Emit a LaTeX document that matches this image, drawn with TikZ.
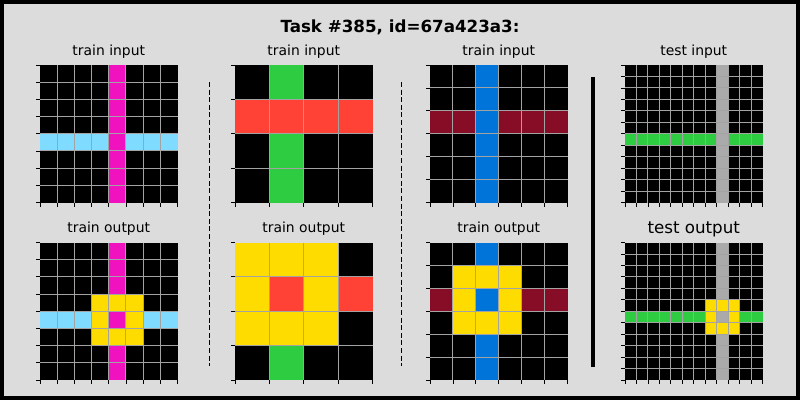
\documentclass[tikz,border=0pt]{standalone}
\usepackage{fontspec}
\setmainfont{DejaVu Sans}
\usetikzlibrary{positioning}

\definecolor{panelbg}{HTML}{DCDCDC}
\definecolor{gridgrey}{HTML}{A3A3A3}
\definecolor{arcblue}{HTML}{0074D9}
\definecolor{arcred}{HTML}{FF4136}
\definecolor{arcgreen}{HTML}{2ECC40}
\definecolor{arcyellow}{HTML}{FFDC00}
\definecolor{arcgrey}{HTML}{AAAAAA}
\definecolor{arcmagenta}{HTML}{F012BE}
\definecolor{arclightblue}{HTML}{7FDBFF}
\definecolor{arcmaroon}{HTML}{870C25}

% one task grid: left, top, size n, blocks ra/ca/rb/cb/colour
\newcommand{\arcgrid}[4]{%
  \pgfmathsetmacro{\cellsz}{137.5/#3}
  \pgfmathtruncatemacro{\lastk}{#3-1}
  \fill[black] (#1,#2) rectangle ++(137.5,137.5);
  \foreach \ra/\ca/\rb/\cb/\clr in {#4}{
    \fill[\clr] ({#1+\ca*\cellsz},{#2+\ra*\cellsz})
      rectangle ({#1+(\cb+1)*\cellsz},{#2+(\rb+1)*\cellsz});
  }
  \foreach \k in {1,...,\lastk}{
    \draw[gridline] ({#1+\k*\cellsz},#2) -- ++(0,137.5);
    \draw[gridline] (#1,{#2+\k*\cellsz}) -- ++(137.5,0);
  }
  \foreach \k in {0,...,#3}{
    \draw[tick] (#1,{#2+\k*\cellsz}) -- ++(-4,0);
    \draw[tick] ({#1+\k*\cellsz},{#2+137.5}) -- ++(0,4);
  }
}

\begin{document}
\begin{tikzpicture}[
    x=1pt, y=-1pt,
    gridline/.style={draw=gridgrey, line width=0.9pt},
    tick/.style={draw=black, line width=0.8pt},
    label/.style={font=\fontsize{13.9}{16}\selectfont, inner sep=0pt},
    testlabel/.style={font=\fontsize{16.7}{19}\selectfont, inner sep=0pt},
    title/.style={font=\fontsize{16.7}{19}\selectfont\bfseries, inner sep=0pt},
    divider/.style={draw=black, line width=1.3pt, dash pattern=on 5pt off 2.6pt},
    splitter/.style={draw=black, line width=4pt}
  ]
  \useasboundingbox (0,0) rectangle (800,400);
  \fill[black] (0,0) rectangle (800,400);
  \fill[panelbg] (4,4) rectangle (796,396);

  \node[title] (title) at (400,27) {Task \#385, id=67a423a3:};

  % train pair 1
  \node[label] (in1) at (108.75,52) {train input};
  \arcgrid{40}{65}{8}{4/0/4/7/arclightblue, 0/4/7/4/arcmagenta}
  \node[label] (out1) at (108.75,229) {train output};
  \arcgrid{40}{242.5}{8}{4/0/4/7/arclightblue, 0/4/7/4/arcmagenta,
    3/3/5/5/arcyellow, 4/4/4/4/arcmagenta}

  % train pair 2
  \node[label] (in2) at (303.75,52) {train input};
  \arcgrid{235}{65}{4}{0/1/3/1/arcgreen, 1/0/1/3/arcred}
  \node[label] (out2) at (303.75,229) {train output};
  \arcgrid{235}{242.5}{4}{0/1/3/1/arcgreen, 1/0/1/3/arcred,
    0/0/2/2/arcyellow, 1/1/1/1/arcred}

  % train pair 3
  \node[label] (in3) at (498.75,52) {train input};
  \arcgrid{430}{65}{6}{2/0/2/5/arcmaroon, 0/2/5/2/arcblue}
  \node[label] (out3) at (498.75,229) {train output};
  \arcgrid{430}{242.5}{6}{2/0/2/5/arcmaroon, 0/2/5/2/arcblue,
    1/1/3/3/arcyellow, 2/2/2/2/arcblue}

  % test pair
  \node[label] (in4) at (693.75,52) {test input};
  \arcgrid{625}{65}{12}{6/0/6/11/arcgreen, 0/8/11/8/arcgrey}
  \node[testlabel] (out4) at (693.75,229) {test output};
  \arcgrid{625}{242.5}{12}{6/0/6/11/arcgreen, 0/8/11/8/arcgrey,
    5/7/7/9/arcyellow, 6/8/6/8/arcgrey}

  % separators
  \draw[divider] (209.5,82) -- (209.5,366);
  \draw[divider] (401.5,82) -- (401.5,366);
  \draw[splitter] (593,77) -- (593,367);
\end{tikzpicture}
\end{document}
